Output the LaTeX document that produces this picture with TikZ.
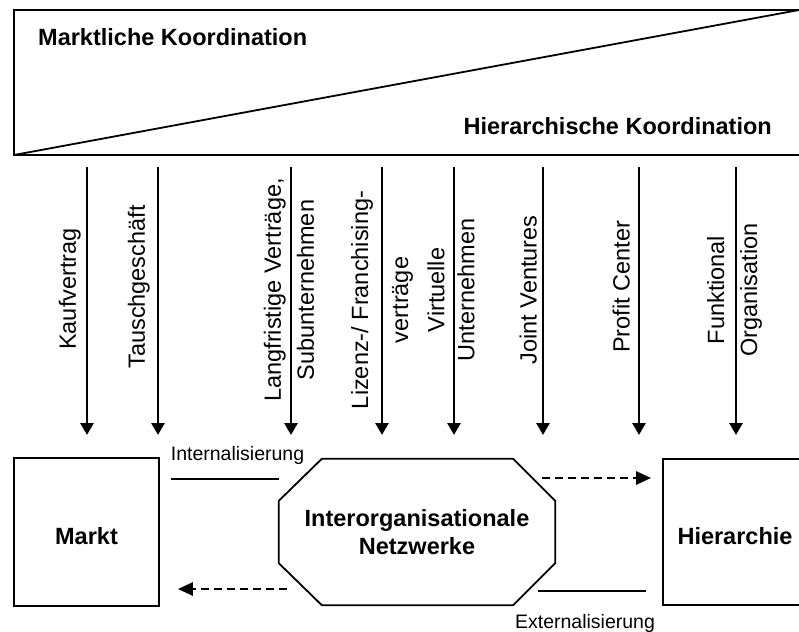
\documentclass[tikz,border=0pt]{standalone}
\usepackage{fontspec}
\setmainfont{Liberation Sans}
\usetikzlibrary{arrows.meta,calc}
\begin{document}
\begin{tikzpicture}[x=1pt,y=-1pt,
  bannerline/.style={line width=1.8pt},
  downarrow/.style={line width=2.8pt,-{Triangle[width=13pt,length=12pt]}},
  vlabel/.style={rotate=90,inner sep=0pt,align=center,font=\fontsize{23.5}{30}\selectfont},
  title/.style={inner sep=0pt,font=\bfseries\fontsize{23.5}{28}\selectfont},
  boxnode/.style={draw,line width=1.8pt,inner sep=0pt,align=center,
    minimum height=146pt,text height=24pt,text depth=0pt,
    font=\bfseries\fontsize{23.5}{28}\selectfont},
  sidecaption/.style={inner sep=0pt,font=\fontsize{19.5}{24}\selectfont},
  joinline/.style={line width=1.5pt},
  shiftarrow/.style={line width=2.8pt,dash pattern=on 8pt off 5pt,
    -{Triangle[width=13pt,length=15pt]}}
]
\useasboundingbox (0,0) rectangle (799,631);
\clip (0,0) rectangle (799,631);

% coordination banner with its diagonal split
\draw[bannerline] (805,10) -- (14,10) -- (14,155) -- (805,155);
\draw[bannerline] (14,155) -- (799,10);
\node[title,anchor=base west] (mk) at (38,45.5) {Marktliche Koordination};
\node[title,anchor=base east] (hk) at (772,135) {Hierarchische Koordination};

% forms of coordination, from market to hierarchy
\foreach \n/\x in {kauf/87,tausch/158,lang/291,lizenz/382,virt/454,joint/543,profit/639,funk/736}{
  \coordinate (\n-top) at (\x,167);
  \coordinate (\n-tip) at (\x,435);
  \draw[downarrow] (\n-top) -- (\n-tip);
}
\node[vlabel,anchor=south] (lkauf) at (81,289) {Kaufvertrag};
\node[vlabel,anchor=south] (ltausch) at (150,287) {Tauschgeschäft};
\node[vlabel,font=\fontsize{23.5}{33}\selectfont] (llang) at (289,290) {Langfristige Verträge,\\Subunternehmen};
\node[vlabel,font=\fontsize{23.5}{40}\selectfont] (llizenz) at (382,300) {Lizenz-/ Franchising-\\verträge};
\node[vlabel] (lvirt) at (451,290) {Virtuelle\\Unternehmen};
\node[vlabel,anchor=south] (ljoint) at (537,290) {Joint Ventures};
\node[vlabel,anchor=south] (lprofit) at (630,287) {Profit Center};
\node[vlabel,font=\fontsize{23.5}{33}\selectfont] (lfunk) at (734.5,290) {Funktional\\Organisation};

% the three institutional forms
\node[boxnode,minimum width=145pt,minimum height=148pt] (markt) at (86.5,532) {Markt};
\node[boxnode,minimum width=144pt] (hier) at (735,532) {Hierarchie};
\node[inner sep=0pt,minimum width=276pt,minimum height=146pt,align=center,
  font=\bfseries\fontsize{23.5}{28}\selectfont] (netz) at (417,532)
  {Interorganisationale\\Netzwerke};
\draw[bannerline]
  ($(netz.north west)+(43,0)$) -- ($(netz.north east)+(-42,0)$) --
  ($(netz.north east)+(0,42)$) -- ($(netz.south east)+(0,-42)$) --
  ($(netz.south east)+(-42,0)$) -- ($(netz.south west)+(43,0)$) --
  ($(netz.south west)+(0,-42)$) -- ($(netz.north west)+(0,42)$) -- cycle;

% internalisation and externalisation
\draw[joinline] ($(markt.east)+(11,-53)$) -- ($(netz.west)+(0,-53)$);
\node[sidecaption,anchor=base] (intl) at (237.5,460) {Internalisierung};
\draw[shiftarrow] ($(netz.west)+(8,57)$) -- ($(markt.east)+(18,57)$);
\draw[shiftarrow] ($(netz.east)+(-13,-54)$) -- ($(hier.west)+(-11,-54)$);
\draw[joinline] ($(netz.east)+(-17,59)$) -- ($(hier.west)+(-16,59)$);
\node[sidecaption,anchor=base] (extl) at (585,628) {Externalisierung};
\end{tikzpicture}
\end{document}
